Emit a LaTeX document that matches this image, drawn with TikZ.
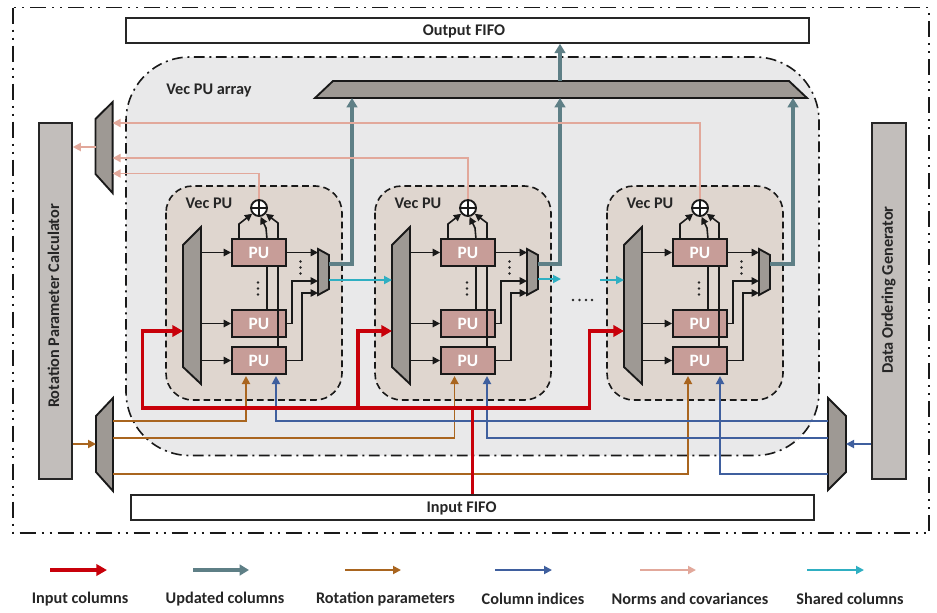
\documentclass[tikz,border=0pt]{standalone}
\usepackage{fontspec}
\setmainfont{Carlito}
\usetikzlibrary{arrows.meta,fit,calc}
\definecolor{cred}{HTML}{C8000A}
\definecolor{cteal}{HTML}{5E7F86}
\definecolor{cbrown}{HTML}{A9651F}
\definecolor{cblue}{HTML}{3F5F9E}
\definecolor{cpink}{HTML}{E2A89B}
\definecolor{ccyan}{HTML}{2FAFC2}
\definecolor{cmux}{HTML}{9E9994}
\definecolor{cside}{HTML}{C2BEBB}
\definecolor{cpu}{HTML}{C79D98}
\definecolor{cvec}{HTML}{DFD6CF}
\definecolor{carr}{HTML}{E9E9EA}
\tikzset{
  lbl/.style={font=\fontsize{12.2}{14}\selectfont\bfseries,text=black!85},
  fifo/.style={draw=black!85,line width=1.4pt,fill=white,inner sep=0pt},
  sidebox/.style={draw=black!85,line width=1.4pt,fill=cside,inner sep=0pt},
  pubox/.style={draw=black!90,line width=1.4pt,fill=cpu,inner sep=0pt,text=white,font=\fontsize{13}{15}\selectfont\bfseries,minimum width=40.5pt,minimum height=20pt},
  muxshape/.style={draw=black!90,line width=1.4pt,fill=cmux,line join=miter},
  muxanchor/.style={inner sep=0pt,outer sep=0pt},
  outerframe/.style={draw=black!90,line width=1.2pt,dash pattern=on 12pt off 4.5pt on 1.5pt off 4.5pt on 1.5pt off 4.5pt},
  arrayframe/.style={draw=black!90,line width=1.2pt,fill=carr,rounded corners=48pt,dash pattern=on 8pt off 3.5pt on 1.5pt off 3.5pt},
  vecframe/.style={draw=black!90,line width=1.2pt,fill=cvec,rounded corners=20pt,dash pattern=on 5pt off 3pt},
  blk/.style={draw=black!90,line width=1.2pt,-{Triangle[length=5.5pt,width=5.5pt]}},
  blkline/.style={draw=black!90,line width=1.2pt},
  tinydot/.style={fill=black!85,circle,inner sep=0pt,minimum size=2pt},
  redline/.style={draw=cred,line width=2.5pt,line join=miter},
  redarr/.style={redline,-{Triangle[length=8pt,width=8.5pt]}},
  tealline/.style={draw=cteal,line width=2.6pt},
  tealarr/.style={tealline,-{Triangle[length=7pt,width=8pt]}},
  brownarr/.style={draw=cbrown,line width=1.4pt,-{Triangle[length=6pt,width=6pt]}},
  bluearr/.style={draw=cblue,line width=1.4pt,-{Triangle[length=6pt,width=6pt]}},
  pinkarr/.style={draw=cpink,line width=1.4pt,-{Triangle[length=6pt,width=6pt]}},
  cyanarr/.style={draw=ccyan,line width=1.4pt,-{Triangle[length=6pt,width=6pt]}},
}
% name, xl, xr, y top-left, y bot-left, y top-right, y bot-right
\newcommand{\muxnode}[7]{%
  \draw[muxshape] (#2,#4)--(#3,#6)--(#3,#7)--(#2,#5)--cycle;
  \node[muxanchor,fit={(#2,#4)(#3,#6)(#3,#7)(#2,#5)}] (#1) {};
}
\newcommand{\vecpu}[2]{%
\begin{scope}[shift={(#2,0)},name prefix=#1-]
  \path[vecframe] (166,186) rectangle (342,400);
  \node[lbl] (title) at (209,203) {Vec PU};
  \muxnode{mux}{183}{201}{245}{367}{227}{384}
  \muxnode{omux}{318}{329}{249}{295}{255}{289}
  \node[pubox] (pu1) at (259,252.5) {PU};
  \node[pubox] (pu2) at (259,323.5) {PU};
  \node[pubox] (pu3) at (259,360.5) {PU};
  \node[draw=black!90,line width=1.4pt,fill=white,circle,minimum size=12pt,inner sep=0pt] (add) at (259,208) {};
  \draw[black!90,line width=1.2pt] (add.north)--(add.south) (add.west)--(add.east);
  \coordinate (tapa) at (239,239);
  \coordinate (tapb) at (267,239);
  \coordinate (tapc) at (278,239);
  \draw[blkline] (pu1.south -| tapb) -- (pu2.north -| tapb);
  \draw[blkline] (pu1.south -| tapc) -- (pu3.north -| tapc);
  \draw[blk] (tapa) -- (239,224) -- (add.220);
  \draw[blk] (tapb) -- (266,228) -- (add.-80);
  \draw[blk] (tapc) -- (278,223) -- (add.-40);
  \draw[blk] (mux.east |- pu1.west) -- (pu1.west);
  \draw[blk] (mux.east |- pu2.west) -- (pu2.west);
  \draw[blk] (mux.east |- pu3.west) -- (pu3.west);
  \draw[blk] (pu1.east) -- (pu1.east -| omux.west);
  \draw[blk] (pu2.east) -- (292,323.5) -- (292,281) -- (omux.west |- 0,281);
  \draw[blk] (pu3.east) -- (302,360.5) -- (302,293) -- (omux.west |- 0,293);
  \foreach \yy in {282.5,288.5,294.5} \node[tinydot] (da\yy) at (258,\yy) {};
  \foreach \yy in {261.5,267.5,273.5} \node[tinydot] (db\yy) at (300.5,\yy) {};
\end{scope}}
\begin{document}
\begin{tikzpicture}[x=0.75pt,y=-0.75pt]
\useasboundingbox (0,0) rectangle (937,612);
\fill[white] (0,0) rectangle (937,612);
\path[outerframe] (13,7.5) rectangle (929,533);
\path[arrayframe] (126,57) rectangle (819,455.5);
\node[lbl] (arraytitle) at (209,90) {Vec PU array};
\vecpu{a}{0}
\vecpu{b}{209}
\vecpu{c}{441}
% FIFOs and side blocks
\node[fifo,minimum width=512pt,minimum height=18.5pt] (ofifo) at (467.5,30.5) {};
\node[lbl] (ofifot) at (464,31) {Output FIFO};
\node[fifo,minimum width=512pt,minimum height=18.5pt] (ififo) at (472.5,507.5) {};
\node[lbl] (ififot) at (461.5,508) {Input FIFO};
\node[sidebox,minimum width=24.5pt,minimum height=267pt] (rpc) at (55.5,301) {};
\node[lbl,rotate=90] (rpct) at (53.5,306) {Rotation Parameter Calculator};
\node[sidebox,minimum width=25.5pt,minimum height=267pt] (dog) at (889,301) {};
\node[lbl,rotate=90] (dogt) at (888.5,290) {Data Ordering Generator};
% multiplexers
\draw[muxshape] (315,98)--(333,81)--(789,81)--(807,98)--cycle;
\node[muxanchor,fit={(315,98)(807,81)}] (tmux) {};
\muxnode{nmux}{95.5}{112.6}{119}{174}{102}{193}
\muxnode{rmux}{96}{113}{416}{472}{398}{491}
\muxnode{dmux}{828}{846}{398}{490}{416}{472}
% updated columns
\draw[tealarr] (a-omux.east |- 0,264) -- (352,264) -- (tmux.south -| 352,0);
\draw[tealarr] (b-omux.east |- 0,264) -- (560,264) -- (tmux.south -| 560,0);
\draw[tealarr] (c-omux.east |- 0,264) -- (793,264) -- (tmux.south -| 793,0);
\draw[tealarr] (tmux.north -| 560,0) -- (ofifo.south -| 560,0);
% norms and covariances
\draw[pinkarr] (a-add.north) -- (a-add.north |- 0,173.5) -- (nmux.east |- 0,173.5);
\draw[pinkarr] (b-add.north) -- (b-add.north |- 0,158) -- (nmux.east |- 0,158);
\draw[pinkarr] (c-add.north) -- (c-add.north |- 0,123) -- (nmux.east |- 0,123);
\draw[pinkarr] (nmux.west |- 0,147) -- (rpc.east |- 0,147);
% shared columns
\draw[cyanarr] (a-omux.east |- 0,280) -- (b-mux.west |- 0,280);
\draw[cyanarr] (b-omux.east |- 0,279) -- (561,279);
\draw[cyanarr] (600,280) -- (c-mux.west |- 0,280);
\foreach \xx in {573,579.5,586,592} \node[tinydot] (g\xx) at (\xx,300) {};
% rotation parameters
\draw[brownarr] (rpc.east |- 0,444) -- (rmux.west |- 0,444);
\draw[brownarr] (rmux.east |- 0,421) -- (246,421) -- (246,376);
\draw[brownarr] (rmux.east |- 0,438) -- (454.5,438) -- (454.5,376);
\draw[brownarr] (rmux.east |- 0,474) -- (688,474) -- (688,376);
% column indices
\draw[bluearr] (dog.west |- 0,444) -- (dmux.east |- 0,444);
\draw[bluearr] (dmux.west |- 0,421) -- (276,421) -- (276,376);
\draw[bluearr] (dmux.west |- 0,438) -- (487,438) -- (487,376);
\draw[bluearr] (dmux.west |- 0,474) -- (720,474) -- (720,376);
% input columns
\draw[redline] (ififo.north) -- (472.5,408);
\draw[redarr] (472.5,408) -- (142.5,408) -- (142.5,331) -- (a-mux.west |- 0,331);
\draw[redarr] (358,408) -- (358,331) -- (b-mux.west |- 0,331);
\draw[redarr] (472.5,408) -- (589.5,408) -- (589.5,331) -- (c-mux.west |- 0,331);
% legend
\coordinate (l1a) at (50,570);\coordinate (l1b) at (107,570);
\coordinate (l2a) at (193,570);\coordinate (l2b) at (249,570);
\coordinate (l3a) at (345,570);\coordinate (l3b) at (401,570);
\coordinate (l4a) at (495,570);\coordinate (l4b) at (552,570);
\coordinate (l5a) at (640,570);\coordinate (l5b) at (696,570);
\coordinate (l6a) at (807,570);\coordinate (l6b) at (864,570);
\draw[redarr] (l1a) -- (l1b);
\draw[tealarr] (l2a) -- (l2b);
\draw[brownarr] (l3a) -- (l3b);
\draw[bluearr] (l4a) -- (l4b);
\draw[pinkarr] (l5a) -- (l5b);
\draw[cyanarr] (l6a) -- (l6b);
\node[lbl] (t1) at (80,599) {Input columns};
\node[lbl] (t2) at (225,599) {Updated columns};
\node[lbl] (t3) at (385.5,599) {Rotation parameters};
\node[lbl] (t4) at (533,599) {Column indices};
\node[lbl] (t5) at (690,599) {Norms and covariances};
\node[lbl] (t6) at (850,599) {Shared columns};
\end{tikzpicture}
\end{document}
